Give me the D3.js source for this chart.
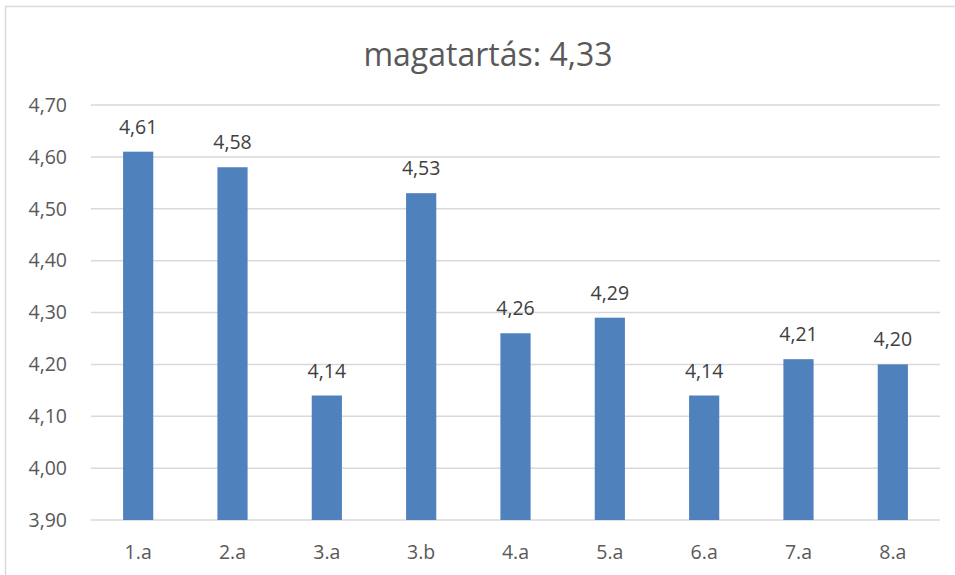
<!DOCTYPE html>
<html>
<head>
<meta charset="utf-8">
<script src="https://cdn.jsdelivr.net/npm/d3@7"></script>
<style>
  html, body { margin: 0; padding: 0; background: #fff; }
</style>
</head>
<body>
<svg id="chart" width="955" height="575"></svg>
<script>
// adatok
var categories = ["1.a", "2.a", "3.a", "3.b", "4.a", "5.a", "6.a", "7.a", "8.a"];
var values = [4.61, 4.58, 4.14, 4.53, 4.26, 4.29, 4.14, 4.21, 4.20];
var yTicks = [3.9, 4.0, 4.1, 4.2, 4.3, 4.4, 4.5, 4.6, 4.7];
var title = "magatartás: 4,33";

var svg = d3.select("#chart");
var FONT = "Open Sans, Noto Sans, sans-serif";
var fmt = function(v){ return d3.format(".2f")(v).replace(".", ","); };

// keret
svg.append("rect").attr("x", 5.5).attr("y", 6.5).attr("width", 1000).attr("height", 1000)
    .attr("fill", "#fff").attr("stroke", "#d9d9d9").attr("stroke-width", 1.5);

var pLeft = 91, pRight = 940, pTop = 105, pBottom = 520;

var x = d3.scaleBand().domain(categories).range([pLeft, pRight]).paddingInner(0.68).paddingOuter(0.34);
var y = d3.scaleLinear().domain([3.9, 4.7]).range([pBottom, pTop]);

// rácsvonalak
svg.append("g").selectAll("line").data(yTicks).enter().append("line")
    .attr("x1", pLeft).attr("x2", pRight)
    .attr("y1", function(d){ return y(d); }).attr("y2", function(d){ return y(d); })
    .attr("stroke", "#d9d9d9").attr("stroke-width", 1.5);

// y tengely feliratok
var yAxis = svg.append("g").attr("transform", "translate(" + pLeft + ",0)")
    .call(d3.axisLeft(y).tickValues(yTicks).tickFormat(fmt).tickSize(0).tickPadding(24));
yAxis.select(".domain").remove();
yAxis.selectAll("text").attr("font-family", FONT).attr("font-size", 19.5).attr("fill", "#595959");

// oszlopok
svg.append("g").selectAll("rect").data(values).enter().append("rect")
    .attr("x", function(d, i){ return x(categories[i]); })
    .attr("width", x.bandwidth())
    .attr("y", function(d){ return y(d); })
    .attr("height", function(d){ return y(3.9) - y(d); })
    .attr("fill", "#4f81bd");

// értékcímkék
svg.append("g").selectAll("text").data(values).enter().append("text")
    .attr("x", function(d, i){ return x(categories[i]) + x.bandwidth() / 2; })
    .attr("y", function(d){ return y(d) - 18; })
    .attr("text-anchor", "middle")
    .attr("font-family", FONT).attr("font-size", 19.5).attr("fill", "#404040")
    .text(fmt);

// x tengely
var xAxis = svg.append("g").attr("transform", "translate(0," + pBottom + ")")
    .call(d3.axisBottom(x).tickSize(0).tickPadding(25));
xAxis.select(".domain").remove();
xAxis.selectAll("text").attr("font-family", FONT).attr("font-size", 19.5).attr("fill", "#595959");

// cím
svg.append("text").attr("x", 488).attr("y", 66).attr("text-anchor", "middle")
    .attr("font-family", FONT).attr("font-size", 32).attr("fill", "#595959")
    .text(title);
</script>
</body>
</html>
